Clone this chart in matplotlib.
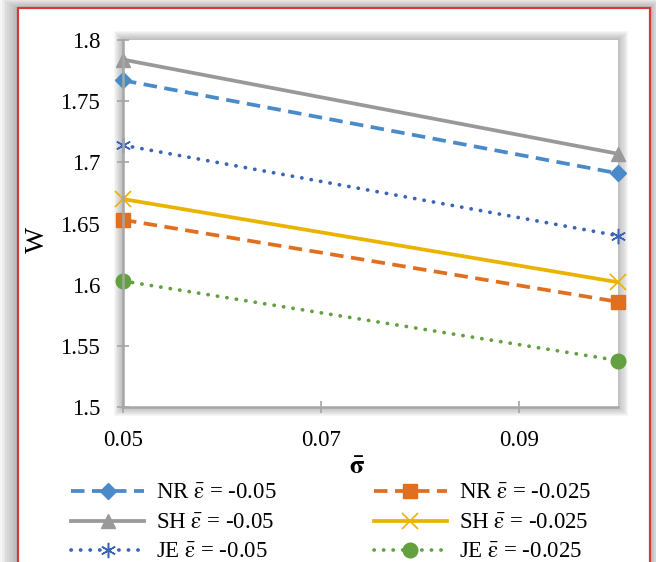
import matplotlib
matplotlib.use("Agg")
import matplotlib.pyplot as plt
from matplotlib.patches import Rectangle

# ---- data ----
sigma = [0.05, 0.10]
nr_a = [1.767, 1.691]   # NR eps=-0.05
sh_a = [1.784, 1.707]   # SH eps=-0.05
je_a = [1.714, 1.640]   # JE eps=-0.05
nr_b = [1.653, 1.586]   # NR eps=-0.025
sh_b = [1.670, 1.602]   # SH eps=-0.025
je_b = [1.603, 1.538]   # JE eps=-0.025
labels = [r"NR $\bar{\mathrm{\varepsilon}}$ = -0.05", r"SH $\bar{\mathrm{\varepsilon}}$ = -0.05",
          r"JE $\bar{\mathrm{\varepsilon}}$ = -0.05", r"NR $\bar{\mathrm{\varepsilon}}$ = -0.025",
          r"SH $\bar{\mathrm{\varepsilon}}$ = -0.025", r"JE $\bar{\mathrm{\varepsilon}}$ = -0.025"]
xticks = [0.05, 0.07, 0.09]
yticks = [1.5, 1.55, 1.6, 1.65, 1.7, 1.75, 1.8]
ytick_labels = ["1.5", "1.55", "1.6", "1.65", "1.7", "1.75", "1.8"]
xtick_labels = ["0.05", "0.07", "0.09"]

plt.rcParams["font.family"] = ["Liberation Serif", "DejaVu Serif"]
plt.rcParams["mathtext.fontset"] = "stix"

W, H = 656, 562
fig = plt.figure(figsize=(W / 100, H / 100), dpi=100)
fig.patch.set_facecolor("white")

def fr(x0, y0, x1, y1):
    """pixel box (top-left origin) -> figure fraction rect"""
    return (x0 / W, 1 - y1 / H, (x1 - x0) / W, (y1 - y0) / H)

# outer shadow of chart frame
for i in range(10, 0, -1):
    r = fr(18 - i * 1.8, 8 - i * 1.0, 650 + i * 1.0, H + 50)
    fig.add_artist(Rectangle(r[:2], r[2], r[3], transform=fig.transFigure,
                             facecolor="#808080", alpha=0.07, edgecolor="none",
                             zorder=0))
r = fr(18, 8, 650, H + 50)
fig.add_artist(Rectangle(r[:2], r[2], r[3], transform=fig.transFigure,
                         facecolor="white", edgecolor="#d83838", linewidth=1.6,
                         zorder=1))

# plot-area shadow
for i in range(9, 0, -1):
    r = fr(123 - i, 40 - i, 618 + i * 1.1, 407 + i)
    fig.add_artist(Rectangle(r[:2], r[2], r[3], transform=fig.transFigure,
                             facecolor="#707070", alpha=0.06, edgecolor="none",
                             zorder=2))

ax = fig.add_axes(fr(123, 40, 618, 407))
ax.set_zorder(3)
ax.set_facecolor("white")

lw = 2.7
common = dict(linewidth=lw, clip_on=False)
h1, = ax.plot(sigma, nr_a, color="#4a8ac8", linestyle=(0, (3.6, 2.0)),
              marker="D", markersize=8.5, label=labels[0], **common)
h2, = ax.plot(sigma, sh_a, color="#999999", linestyle="-",
              marker="^", markersize=10.5, label=labels[1], **common)
h3, = ax.plot(sigma, je_a, color="#3a64b8", linestyle=(0, (0.05, 2.5)),
              dash_capstyle="round", marker=(6, 2, 0), markersize=11,
              markeredgewidth=1.1, label=labels[2], **common)
h4, = ax.plot(sigma, nr_b, color="#e07020", linestyle=(0, (3.6, 2.0)),
              marker="s", markersize=10, label=labels[3], **common)
h5, = ax.plot(sigma, sh_b, color="#ebb300", linestyle="-",
              marker="x", markersize=11, markeredgewidth=1.2,
              label=labels[4], **common)
h6, = ax.plot(sigma, je_b, color="#62a040", linestyle=(0, (0.05, 2.5)),
              dash_capstyle="round", marker="o", markersize=10.5,
              label=labels[5], **common)

ax.set_xlim(0.05, 0.10)
ax.set_ylim(1.5, 1.8)
ax.set_xticks(xticks)
ax.set_xticklabels(xtick_labels)
ax.set_yticks(yticks)
ax.set_yticklabels(ytick_labels)
for s in ["top", "right"]:
    ax.spines[s].set_visible(False)
for s in ["left", "bottom"]:
    ax.spines[s].set_color("#a6a6a6")
    ax.spines[s].set_linewidth(1.8)
ax.tick_params(axis="both", direction="inout", length=9, width=1.2,
               color="#a6a6a6", labelsize=16.5, pad=12, labelcolor="black")

fig.text(37 / W, 1 - 240 / H, "W", rotation=90, fontsize=20,
         ha="center", va="center")
fig.text(357 / W, 1 - 467 / H, r"$\mathbf{\bar{\sigma}}$", fontsize=19,
         ha="center", va="center", fontweight="bold")

leg = fig.legend(handles=[h1, h2, h3, h4, h5, h6], ncol=2,
                 loc="upper left", bbox_to_anchor=(55 / W, 1 - 467 / H),
                 frameon=False, fontsize=16.5, handlelength=3.2,
                 handletextpad=0.5, columnspacing=4.25, labelspacing=0.37,
                 borderpad=0.2)

fig.savefig("out.png", dpi=100)
